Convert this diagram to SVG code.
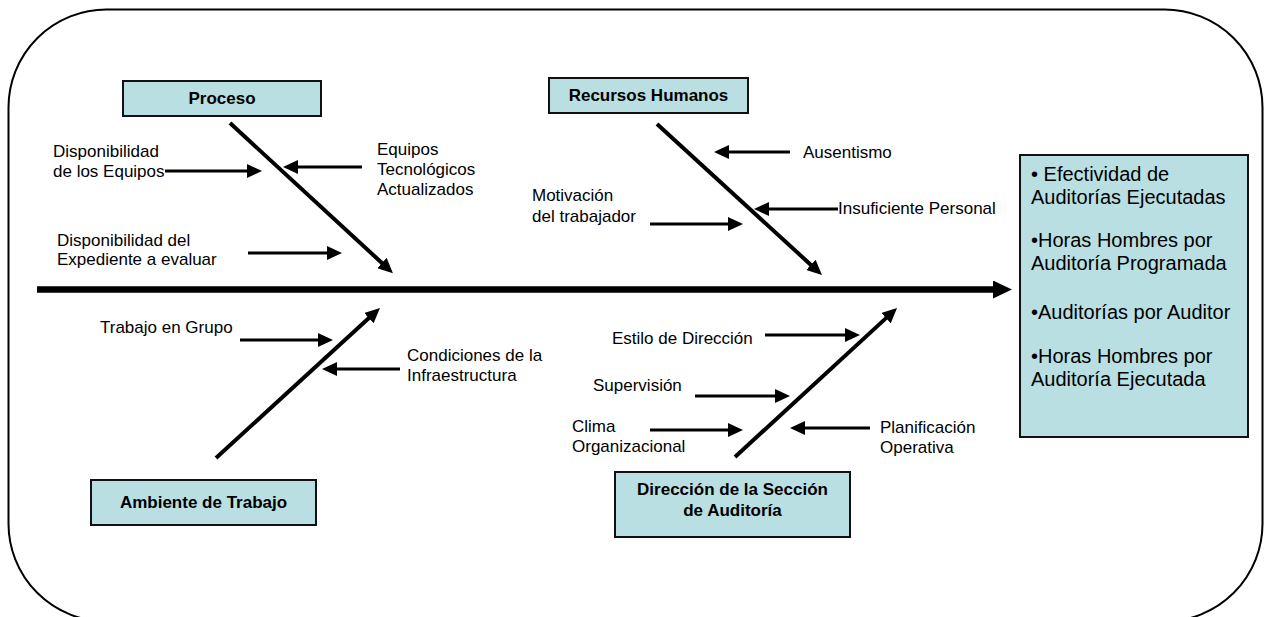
<svg xmlns="http://www.w3.org/2000/svg" width="1266" height="617" viewBox="0 0 1266 617">
  <style>
    .frame { fill: none; stroke: #000; stroke-width: 2; }
    .box { fill: #b9dfe2; stroke: #111; stroke-width: 2; }
    .title { font-family: "Liberation Sans", Arial, sans-serif; font-size: 17px; font-weight: bold; fill: #000; text-anchor: middle; }
    .label { font-family: "Liberation Sans", Arial, sans-serif; font-size: 17px; fill: #000; }
    .effect { font-family: "Liberation Sans", Arial, sans-serif; font-size: 20px; fill: #000; }
    .spine { stroke: #000; stroke-width: 6.5; fill: none; marker-end: url(#bigHead); }
    .bone { stroke: #000; stroke-width: 4; fill: none; marker-end: url(#head); }
    .cause { stroke: #000; stroke-width: 3; fill: none; marker-end: url(#head); }
  </style>
  <defs>
    <marker id="head" markerUnits="userSpaceOnUse" markerWidth="15" markerHeight="14" refX="3" refY="7" orient="auto">
      <path d="M0,0 L15,7 L0,14 z" fill="#000"/>
    </marker>
    <marker id="bigHead" markerUnits="userSpaceOnUse" markerWidth="19" markerHeight="18" refX="3" refY="9" orient="auto">
      <path d="M0,0 L19,9 L0,18 z" fill="#000"/>
    </marker>
  </defs>

  <rect width="1266" height="617" fill="#fff"/>
  <!-- rounded outer frame, running past the lower edge -->
  <rect class="frame" x="8.5" y="9.5" width="1254" height="612" rx="98" ry="98"/>

  <g id="connectors">
    <!-- main spine -->
    <line class="spine" x1="37" y1="289.5" x2="996" y2="289.5"/>
    <!-- category bones -->
    <line class="bone" x1="230" y1="123" x2="384.1" y2="265"/>
    <line class="bone" x1="657" y1="124" x2="813.1" y2="266.9"/>
    <line class="bone" x1="216" y1="458" x2="371.1" y2="316.1"/>
    <line class="bone" x1="735" y1="457" x2="888.2" y2="316.1"/>
    <!-- cause arrows: Proceso -->
    <line class="cause" x1="165" y1="171" x2="250" y2="171"/>
    <line class="cause" x1="362" y1="167" x2="295" y2="167"/>
    <line class="cause" x1="248" y1="253" x2="330" y2="253"/>
    <!-- cause arrows: Recursos Humanos -->
    <line class="cause" x1="790" y1="152" x2="726" y2="152"/>
    <line class="cause" x1="838" y1="209" x2="766" y2="209"/>
    <line class="cause" x1="650" y1="224" x2="731" y2="224"/>
    <!-- cause arrows: Ambiente de Trabajo -->
    <line class="cause" x1="240" y1="340" x2="321" y2="340"/>
    <line class="cause" x1="400" y1="369" x2="334" y2="369"/>
    <!-- cause arrows: Direccion -->
    <line class="cause" x1="765" y1="335" x2="848" y2="335"/>
    <line class="cause" x1="695" y1="396" x2="778" y2="396"/>
    <line class="cause" x1="650" y1="430" x2="731" y2="430"/>
    <line class="cause" x1="870" y1="428" x2="802" y2="428"/>
  </g>

  <g id="proceso">
    <rect class="box" x="123" y="81" width="198" height="35"/>
    <text class="title" x="222" y="104">Proceso</text>
    <text class="label" x="53" y="157">Disponibilidad</text>
    <text class="label" x="53" y="177">de los Equipos</text>
    <text class="label" x="377" y="155">Equipos</text>
    <text class="label" x="377" y="175">Tecnológicos</text>
    <text class="label" x="377" y="195">Actualizados</text>
    <text class="label" x="57" y="246">Disponibilidad del</text>
    <text class="label" x="57" y="265">Expediente a evaluar</text>
  </g>

  <g id="recursos-humanos">
    <rect class="box" x="549" y="78" width="199" height="35"/>
    <text class="title" x="648.5" y="101">Recursos Humanos</text>
    <text class="label" x="803" y="158">Ausentismo</text>
    <text class="label" x="838" y="214">Insuficiente Personal</text>
    <text class="label" x="532" y="201">Motivación</text>
    <text class="label" x="532" y="222">del trabajador</text>
  </g>

  <g id="ambiente-de-trabajo">
    <rect class="box" x="91" y="480" width="225" height="45"/>
    <text class="title" x="203.5" y="508">Ambiente de Trabajo</text>
    <text class="label" x="100" y="333">Trabajo en Grupo</text>
    <text class="label" x="407" y="361">Condiciones de la</text>
    <text class="label" x="407" y="381">Infraestructura</text>
  </g>

  <g id="direccion">
    <rect class="box" x="615" y="472" width="235" height="65"/>
    <text class="title" x="732.5" y="495">Dirección de la Sección</text>
    <text class="title" x="732.5" y="516">de Auditoría</text>
    <text class="label" x="612" y="344">Estilo de Dirección</text>
    <text class="label" x="593" y="391">Supervisión</text>
    <text class="label" x="572" y="432">Clima</text>
    <text class="label" x="572" y="452">Organizacional</text>
    <text class="label" x="880" y="433">Planificación</text>
    <text class="label" x="880" y="453">Operativa</text>
  </g>

  <g id="efecto">
    <rect class="box" x="1020" y="155" width="228" height="282"/>
    <text class="effect" x="1031" y="181">• Efectividad de</text>
    <text class="effect" x="1031" y="204">Auditorías Ejecutadas</text>
    <text class="effect" x="1031" y="247">•Horas Hombres por</text>
    <text class="effect" x="1031" y="270">Auditoría Programada</text>
    <text class="effect" x="1031" y="319">•Auditorías por Auditor</text>
    <text class="effect" x="1031" y="363">•Horas Hombres por</text>
    <text class="effect" x="1031" y="386">Auditoría Ejecutada</text>
  </g>
</svg>
